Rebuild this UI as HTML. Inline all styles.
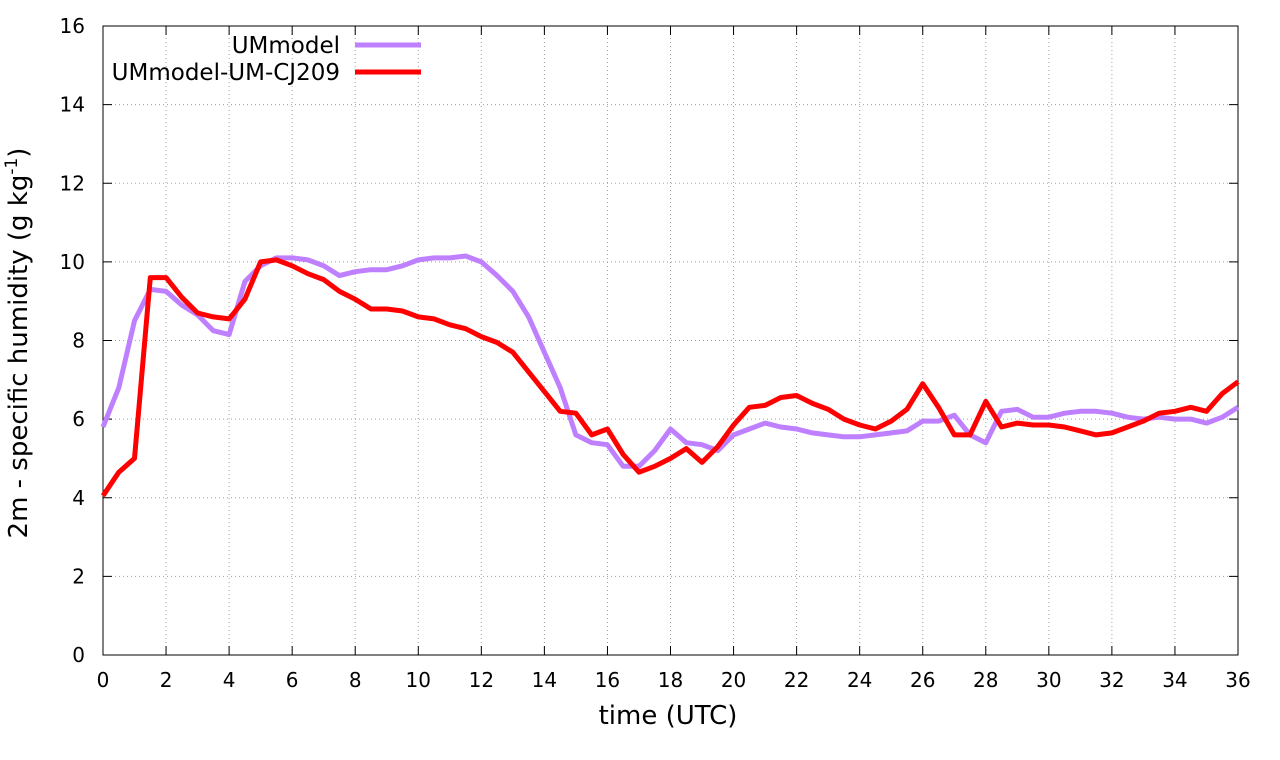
<!DOCTYPE html>
<html><head><meta charset="utf-8"><style>
body{margin:0;background:#fff;}
svg{display:block;font-family:"DejaVu Sans","Liberation Sans",sans-serif;}
</style></head><body>
<svg id="chart" width="1280" height="760" viewBox="0 0 1280 760">
<g id="grid"></g>
<rect x="103" y="26" width="1135" height="629" fill="none" stroke="#000" stroke-width="1"/>
<g id="axes"></g>
<g id="series"></g>
<text x="668" y="724" font-size="26" text-anchor="middle">time (UTC)</text>
<text transform="translate(27,343) rotate(-90)" font-size="26" text-anchor="middle">2m - specific humidity (g kg<tspan dy="-10" font-size="17">-1</tspan><tspan dy="10">)</tspan></text>
<g>
<text x="340" y="53" font-size="23" text-anchor="end">UMmodel</text>
<line x1="355" y1="45" x2="421" y2="45" stroke="#bf80ff" stroke-width="5"/>
<text x="340" y="80" font-size="23" text-anchor="end">UMmodel-UM-CJ209</text>
<line x1="355" y1="72" x2="421" y2="72" stroke="#ff0000" stroke-width="5"/>
</g>
</svg>
<script>
const times=[];for(let i=0;i<=72;i++)times.push(i*0.5);
const umModel=[5.8,6.8,8.5,9.3,9.25,8.9,8.65,8.25,8.15,9.5,9.9,10.1,10.1,10.05,9.9,9.65,9.75,9.8,9.8,9.9,10.05,10.1,10.1,10.15,10.0,9.65,9.25,8.6,7.7,6.8,5.6,5.4,5.35,4.8,4.8,5.2,5.75,5.4,5.35,5.2,5.6,5.75,5.9,5.8,5.75,5.65,5.6,5.55,5.55,5.6,5.65,5.7,5.95,5.95,6.1,5.6,5.4,6.2,6.25,6.05,6.05,6.15,6.2,6.2,6.15,6.05,6.0,6.05,6.0,6.0,5.9,6.05,6.3];
const umCJ209=[4.05,4.65,5.0,9.6,9.6,9.1,8.7,8.6,8.55,9.05,10.0,10.05,9.9,9.7,9.55,9.25,9.05,8.8,8.8,8.75,8.6,8.55,8.4,8.3,8.1,7.95,7.7,7.2,6.7,6.2,6.15,5.6,5.75,5.1,4.65,4.8,5.0,5.25,4.9,5.3,5.85,6.3,6.35,6.55,6.6,6.4,6.25,6.0,5.85,5.75,5.95,6.25,6.9,6.3,5.6,5.6,6.45,5.8,5.9,5.85,5.85,5.8,5.7,5.6,5.65,5.8,5.95,6.15,6.2,6.3,6.2,6.65,6.95];
const xTicks=[0,2,4,6,8,10,12,14,16,18,20,22,24,26,28,30,32,34,36];
const yTicks=[0,2,4,6,8,10,12,14,16];
const X0=103,X1=1238,Y0=655,Y1=26;
const xs=v=>X0+(v/36)*(X1-X0);
const ys=v=>Y0-(v/16)*(Y0-Y1);
const NS="http://www.w3.org/2000/svg";
const grid=document.getElementById('grid'),axes=document.getElementById('axes'),series=document.getElementById('series');
function mk(tag,attrs,parent){const e=document.createElementNS(NS,tag);for(const k in attrs)e.setAttribute(k,attrs[k]);parent.appendChild(e);return e;}
xTicks.forEach(t=>{
  const x=xs(t);
  if(t>0&&t<36){const g=mk('line',{x1:x,y1:Y0,x2:x,y2:Y1,stroke:'#a0a0a0','stroke-width':1,'stroke-dasharray':'1,3'},grid);
  
  }
  const tk=mk('path',{d:`M${x},${Y0}v-9M${x},${Y1}v9`,stroke:'#000'},axes);
  
  
  const l=mk('text',{x:x,y:Y0+32,'font-size':20,'text-anchor':'middle'},axes);l.textContent=t;
  
  
});
yTicks.forEach(t=>{
  const y=ys(t);
  if(t>0&&t<16){const g=mk('line',{x1:X0,y1:y,x2:X1,y2:y,stroke:'#a0a0a0','stroke-width':1,'stroke-dasharray':'1,3'},grid);
  
  }
  const tk=mk('path',{d:`M${X0},${y}h9M${X1},${y}h-9`,stroke:'#000'},axes);
  
  
  const l=mk('text',{x:X0-18,y:y+7,'font-size':20,'text-anchor':'end'},axes);l.textContent=t;
  
  
});
function line(vals,color,name){
  const d=vals.map((v,i)=>(i?'L':'M')+xs(times[i]).toFixed(1)+','+ys(v).toFixed(1)).join('');
  const p=mk('path',{d:d,fill:'none',stroke:color,'stroke-width':5,'stroke-linejoin':'round'},series);
  
  
}
line(umModel,'#bf80ff','ummodel-line');
line(umCJ209,'#ff0000','ummodel-um-cj209-line');
</script>
</body></html>
